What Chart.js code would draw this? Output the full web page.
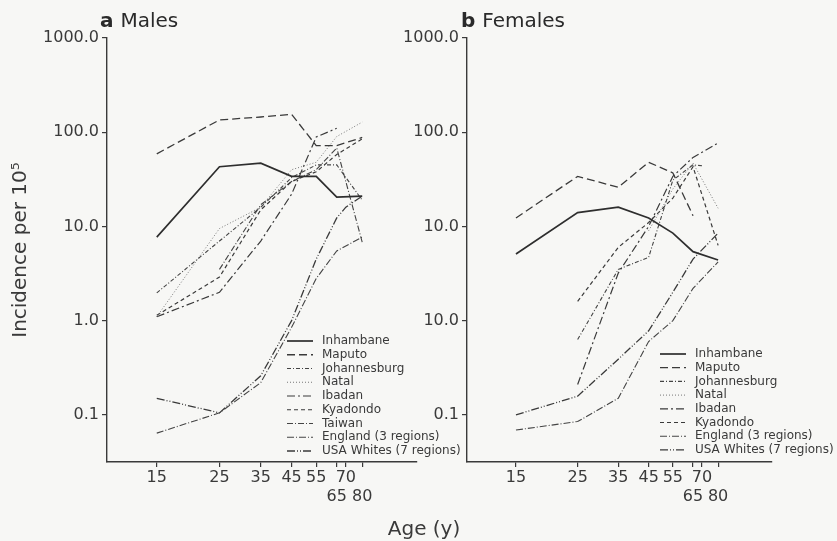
<!DOCTYPE html>
<html>
<head>
<meta charset="utf-8">
<script src="https://cdn.jsdelivr.net/npm/chart.js@4.4.1/dist/chart.umd.min.js"></script>
<style>
  html, body { margin: 0; padding: 0; background: #f7f7f5; }
  #wrap { position: relative; width: 837px; height: 541px; overflow: hidden; }
  #wrap canvas { position: absolute; left: 0; top: 0; }
  #xtitle { position: absolute; left: 0; width: 848px; top: 516px; text-align: center;
            font: 20px "DejaVu Sans", sans-serif; color: #3a3a3a; }
</style>
</head>
<body>
<div id="wrap">
  <canvas id="males" width="837" height="541"></canvas>
  <canvas id="females" width="837" height="541"></canvas>
  <div id="xtitle">Age (y)</div>
</div>
<script>
// age groups on the (log) x axis and their tick labels; 65 and 80 sit on a second row
const ages = [15, 25, 35, 45, 55, 65, 70, 80];
const xTickLabels = ["15", "25", "35", "45", "55", ["", "65"], "70", ["", "80"]];
const yTickValues = [0.1, 1, 10, 100, 1000];
const maleYTickLabels = ["0.1", "1.0", "10.0", "100.0", "1000.0"];
const femaleYTickLabels = ["0.1", "10.0", "10.0", "100.0", "1000.0"];

// incidence per 100 000, one value per age group (null = no point)
const maleInhambane    = [7.7, 43, 47, 34, 34, 20.5, null, 21];
const maleMaputo       = [59, 135, 145, 155, 72, 72, null, 88];
const maleJohannesburg = [1.97, 7, 16, 33, 45, 45, null, 19];
const maleNatal        = [1.1, 9.5, 16, 40, 48, 90, null, 128];
const maleIbadan       = [1.1, 2.0, 7, 22, 89, 110, null, null];
const maleKyadondo     = [1.14, 2.9, 15, 30, 38, 58, null, 85];
const maleTaiwan       = [null, 3.5, 17, 30, 40, 68, null, 6.8];
const maleEngland      = [0.064, 0.105, 0.22, 0.85, 2.8, 5.5, null, 7.7];
const maleUSA          = [0.15, 0.105, 0.26, 1.0, 4.5, 12.3, 16, 21];

const femaleInhambane    = [5.1, 14, 16, 12.3, 8.5, 5.4, null, 4.4];
const femaleMaputo       = [12.3, 34, 26, 48, 37, 13, null, null];
const femaleJohannesburg = [null, 0.63, 3.5, 4.7, 31, 45, 44, null];
const femaleNatal        = [null, null, null, 9, 25, 47, null, 15.6];
const femaleIbadan       = [null, 0.21, 3.2, 10, 34, 54, null, 77];
const femaleKyadondo     = [null, 1.6, 6.0, 11, 20, 43, null, 6.3];
const femaleEngland      = [0.069, 0.085, 0.15, 0.6, 1.0, 2.2, null, 4.2];
const femaleUSA          = [0.1, 0.158, 0.39, 0.78, 2.0, 4.5, null, 8.5];

// line styles per registry
const styles = {
  "Inhambane":              { dash: [], color: "#2e2e2e", width: 1.7 },
  "Maputo":                 { dash: [8, 4], color: "#3a3a3a", width: 1.3 },
  "Johannesburg":           { dash: [4, 2, 1, 2], color: "#444", width: 1.1 },
  "Natal":                  { dash: [1, 2], color: "#777", width: 1 },
  "Ibadan":                 { dash: [8, 3, 2, 3], color: "#3a3a3a", width: 1.2 },
  "Kyadondo":               { dash: [4, 3], color: "#3a3a3a", width: 1.2 },
  "Taiwan":                 { dash: [6, 2, 1, 2], color: "#444", width: 1.1 },
  "England (3 regions)":    { dash: [7, 2, 1, 2], color: "#444", width: 1.1 },
  "USA Whites (7 regions)": { dash: [8, 2, 1, 2, 1, 2], color: "#3a3a3a", width: 1.3 }
};

const FONT = '"DejaVu Sans", sans-serif';
const textColor = "#3a3a3a";
const axisColor = "#3a3a3a";
Chart.defaults.font.family = FONT;

function toPoints(values) {
  return ages.map((a, i) => ({ x: a, y: values[i] })).filter(p => p.y !== null);
}

function makeDataset(label, values) {
  const s = styles[label];
  return {
    label: label,
    data: toPoints(values),
    borderColor: s.color,
    borderWidth: s.width,
    borderDash: s.dash,
    pointRadius: 0,
    tension: 0,
    fill: false
  };
}

const lineKey = {
  id: "lineKey",
  afterDraw(chart, args, opts) {
    const ctx = chart.ctx;
    ctx.save();
    ctx.font = "12px " + FONT;
    ctx.textBaseline = "middle";
    chart.data.datasets.forEach((ds, i) => {
      const y = opts.y + i * opts.rowHeight;
      ctx.beginPath();
      ctx.setLineDash(ds.borderDash);
      ctx.strokeStyle = ds.borderColor;
      ctx.lineWidth = ds.borderWidth;
      ctx.moveTo(opts.x, y);
      ctx.lineTo(opts.x + 26, y);
      ctx.stroke();
      ctx.setLineDash([]);
      ctx.fillStyle = textColor;
      ctx.fillText(ds.label, opts.x + 35, y);
    });
    ctx.restore();
  }
};

const panelTitle = {
  id: "panelTitle",
  afterDraw(chart, args, opts) {
    const ctx = chart.ctx;
    ctx.save();
    ctx.fillStyle = "#2a2a2a";
    ctx.textBaseline = "alphabetic";
    ctx.font = "bold 20px " + FONT;
    ctx.fillText(opts.letter, opts.x, opts.y);
    const w = ctx.measureText(opts.letter + " ").width;
    ctx.font = "20px " + FONT;
    ctx.fillText(opts.text, opts.x + w, opts.y);
    ctx.restore();
  }
};

function makeChart(id, datasets, yLabels, cfg) {
  return new Chart(document.getElementById(id), {
    type: "line",
    data: { datasets: datasets },
    options: {
      responsive: false,
      animation: false,
      devicePixelRatio: 1,
      layout: { padding: cfg.padding },
      plugins: {
        legend: { display: false },
        tooltip: { enabled: false },
        lineKey: cfg.key,
        panelTitle: cfg.title
      },
      scales: {
        x: {
          type: "logarithmic",
          min: 10,
          max: 125,
          bounds: "data",
          afterBuildTicks: s => { s.ticks = ages.map(v => ({ value: v })); },
          afterFit: s => { s.height = 79; },
          border: { display: true, color: axisColor, width: 1.4 },
          grid: { drawOnChartArea: false, drawTicks: true, tickLength: 5, color: axisColor, lineWidth: 1.2 },
          ticks: {
            autoSkip: false, maxRotation: 0, minRotation: 0, padding: 1,
            color: textColor, font: { size: 16 },
            callback: (v, i) => xTickLabels[i]
          }
        },
        y: {
          type: "logarithmic",
          min: 0.0316,
          max: 1000,
          bounds: "data",
          afterBuildTicks: s => { s.ticks = yTickValues.map(v => ({ value: v })); },
          afterFit: s => { s.width = cfg.yWidth; },
          border: { display: true, color: axisColor, width: 1.4 },
          grid: { drawOnChartArea: false, drawTicks: true, tickLength: 5, color: axisColor, lineWidth: 1.2 },
          title: {
            display: !!cfg.yTitle,
            text: cfg.yTitle || "",
            color: textColor,
            font: { size: 20 },
            padding: { top: 9, bottom: 0 }
          },
          ticks: {
            padding: 3, color: textColor, font: { size: 16 },
            callback: (v, i) => yLabels[i]
          }
        }
      }
    },
    plugins: [lineKey, panelTitle]
  });
}

makeChart("males", [
  makeDataset("Inhambane", maleInhambane),
  makeDataset("Maputo", maleMaputo),
  makeDataset("Johannesburg", maleJohannesburg),
  makeDataset("Natal", maleNatal),
  makeDataset("Ibadan", maleIbadan),
  makeDataset("Kyadondo", maleKyadondo),
  makeDataset("Taiwan", maleTaiwan),
  makeDataset("England (3 regions)", maleEngland),
  makeDataset("USA Whites (7 regions)", maleUSA)
], maleYTickLabels, {
  padding: { left: 0, right: 420, top: 38, bottom: 0 },
  yWidth: 107,
  yTitle: "Incidence per 10\u2075",
  key: { x: 287, y: 341, rowHeight: 13.75 },
  title: { letter: "a", text: "Males", x: 100, y: 27 }
});

makeChart("females", [
  makeDataset("Inhambane", femaleInhambane),
  makeDataset("Maputo", femaleMaputo),
  makeDataset("Johannesburg", femaleJohannesburg),
  makeDataset("Natal", femaleNatal),
  makeDataset("Ibadan", femaleIbadan),
  makeDataset("Kyadondo", femaleKyadondo),
  makeDataset("England (3 regions)", femaleEngland),
  makeDataset("USA Whites (7 regions)", femaleUSA)
], femaleYTickLabels, {
  padding: { left: 380, right: 65, top: 38, bottom: 0 },
  yWidth: 87,
  yTitle: null,
  key: { x: 660, y: 354, rowHeight: 13.7 },
  title: { letter: "b", text: "Females", x: 461, y: 27 }
});
</script>
</body>
</html>
